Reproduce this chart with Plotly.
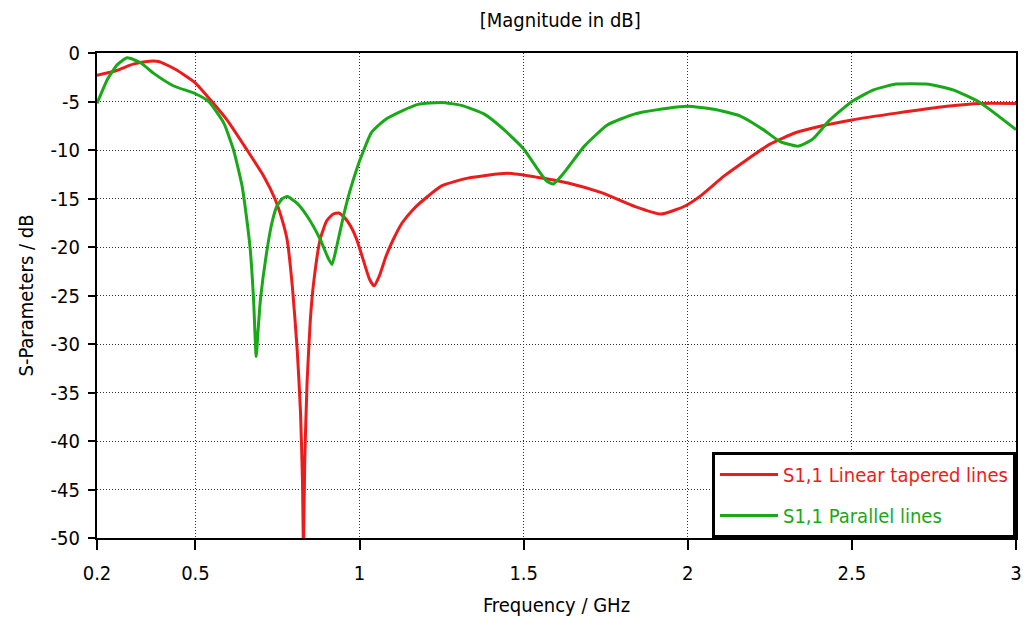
import plotly.graph_objects as go

# S1,1 Linear tapered lines
red_f = [0.2, 0.26, 0.31, 0.36, 0.39, 0.44, 0.5, 0.546, 0.596, 0.657, 0.708, 0.743, 0.765,
         0.779, 0.795, 0.81, 0.82, 0.826, 0.829, 0.833, 0.84, 0.85, 0.86, 0.88, 0.9, 0.92,
         0.936, 0.955, 0.975, 0.991, 1.01, 1.03, 1.044, 1.06, 1.08, 1.103, 1.13, 1.164, 1.2,
         1.25, 1.33, 1.45, 1.54, 1.635, 1.737, 1.837, 1.918, 1.99, 2.04, 2.11, 2.18, 2.25,
         2.33, 2.41, 2.5, 2.636, 2.79, 2.89, 3.0]
red_db = [-2.3, -1.8, -1.15, -0.85, -0.9, -1.7, -3.1, -4.85, -6.9, -10.0, -12.7, -15.1, -17.3,
          -19.2, -24.0, -30.6, -37.0, -44.0, -51.0, -42.0, -34.0, -27.5, -23.7, -19.2, -17.3, -16.6,
          -16.5, -17.0, -18.0, -19.2, -21.2, -23.3, -24.0, -23.0, -21.0, -19.2, -17.5, -16.1, -15.0,
          -13.7, -12.9, -12.4, -12.8, -13.4, -14.4, -15.8, -16.6, -15.8, -14.7, -12.7, -11.0, -9.4,
          -8.2, -7.5, -6.9, -6.2, -5.5, -5.2, -5.2]

# S1,1 Parallel lines
green_f = [0.2, 0.232, 0.262, 0.292, 0.333, 0.373, 0.434, 0.5, 0.54, 0.586, 0.616, 0.642, 0.655,
           0.667, 0.677, 0.685, 0.691, 0.698, 0.718, 0.733, 0.748, 0.765, 0.78, 0.81, 0.84, 0.88,
           0.905, 0.916, 0.93, 0.951, 0.97, 0.991, 1.006, 1.036, 1.077, 1.128, 1.178, 1.25, 1.31,
           1.38, 1.44, 1.5, 1.543, 1.57, 1.59, 1.624, 1.685, 1.756, 1.837, 1.939, 2.0, 2.08, 2.16,
           2.23, 2.28, 2.335, 2.38, 2.43, 2.5, 2.566, 2.636, 2.727, 2.808, 2.89, 3.0]
green_db = [-5.2, -2.7, -1.2, -0.5, -1.0, -2.1, -3.4, -4.2, -5.0, -7.2, -10.0, -13.7, -16.8,
            -20.3, -25.4, -31.3, -28.5, -25.4, -20.3, -17.5, -15.8, -15.0, -14.8, -15.5, -16.8, -19.2,
            -21.2, -21.8, -20.0, -16.8, -14.3, -12.0, -10.6, -8.2, -6.9, -6.0, -5.3, -5.1, -5.4,
            -6.3, -7.9, -9.9, -12.0, -13.2, -13.5, -12.3, -9.6, -7.4, -6.3, -5.7, -5.5, -5.8, -6.5,
            -7.9, -9.1, -9.6, -8.9, -7.0, -5.0, -3.8, -3.2, -3.2, -3.8, -5.1, -7.9]

x_ticks = [0.2, 0.5, 1, 1.5, 2, 2.5, 3]
x_tick_labels = ["0.2", "0.5", "1", "1.5", "2", "2.5", "3"]
y_ticks = [0, -5, -10, -15, -20, -25, -30, -35, -40, -45, -50]
y_tick_labels = ["0", "-5", "-10", "-15", "-20", "-25", "-30", "-35", "-40", "-45", "-50"]

RED = "#ec1c1c"
GREEN = "#18a818"
FONT = "DejaVu Sans Condensed, Liberation Sans Narrow, DejaVu Sans"
FS = 20

fig = go.Figure()
fig.add_trace(go.Scatter(x=red_f, y=red_db, mode="lines", legendgroup="a",
                         name=f"<span style='color:{RED}'>S1,1 Linear tapered lines</span>",
                         line=dict(color=RED, width=3, shape="spline", smoothing=0.5)))
fig.add_trace(go.Scatter(x=green_f, y=green_db, mode="lines", legendgroup="b",
                         name=f"<span style='color:{GREEN}'>S1,1 Parallel lines</span>",
                         line=dict(color=GREEN, width=3, shape="spline", smoothing=0.5)))

axis_common = dict(showline=True, linecolor="black", linewidth=2, mirror=True,
                   ticks="outside", tickcolor="black", tickwidth=2,
                   showgrid=True, gridcolor="#333333", gridwidth=1, griddash="1px,2px",
                   zeroline=False, automargin=False,
                   tickfont=dict(family=FONT, size=FS, color="black"))

fig.update_layout(
    width=1017, height=609,
    margin=dict(l=89, r=9, t=45, b=79),
    paper_bgcolor="white", plot_bgcolor="white",
    title=dict(text="[Magnitude in dB]", x=0.543, xanchor="center", y=0.980, yanchor="middle",
               font=dict(family=FONT, size=FS, color="black")),
    xaxis=dict(range=[0.2, 3], tickvals=x_ticks, ticktext=x_tick_labels, ticklen=10,
               ticklabelstandoff=6,
               title=dict(text="Frequency / GHz", font=dict(family=FONT, size=FS, color="black"),
                          standoff=15),
               **axis_common),
    yaxis=dict(range=[-50, 0], tickvals=y_ticks, ticktext=y_tick_labels, ticklen=7,
               ticklabelstandoff=4,
               title=dict(text="S-Parameters / dB", font=dict(family=FONT, size=FS, color="black"),
                          standoff=12),
               **axis_common),
    legend=dict(x=1, y=0, xanchor="right", yanchor="bottom",
                bgcolor="white", bordercolor="black", borderwidth=3,
                font=dict(family=FONT, size=FS), tracegroupgap=12,
                itemwidth=58),
    showlegend=True,
)

fig.write_html("out.html")
